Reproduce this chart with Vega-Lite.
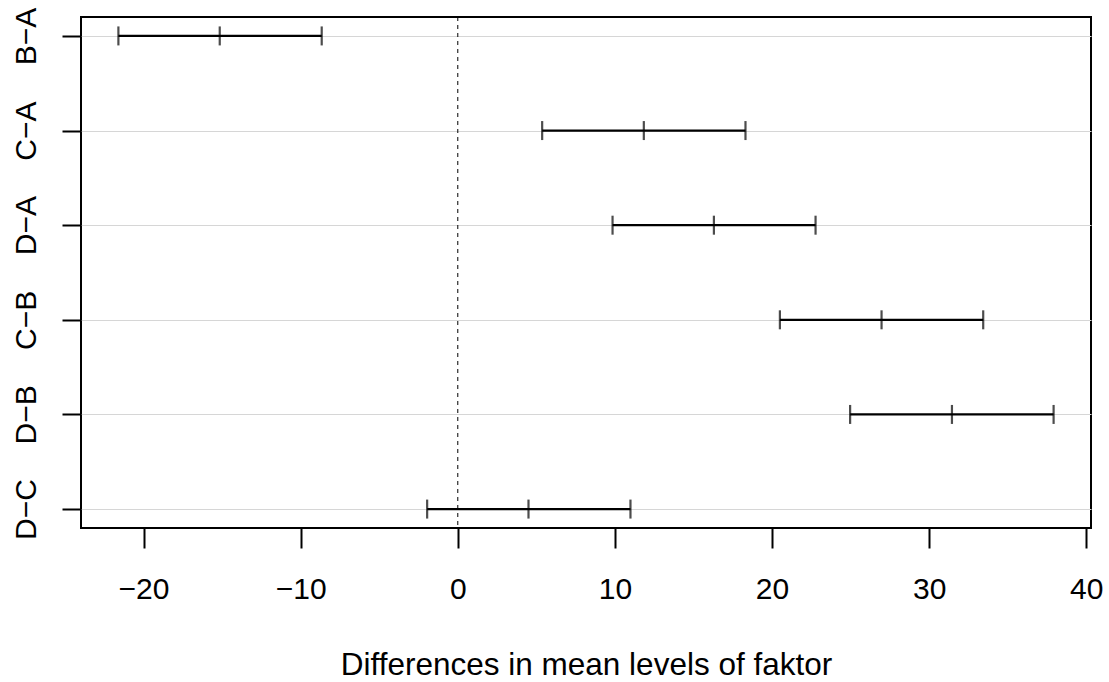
{
  "$schema": "https://vega.github.io/schema/vega-lite/v6.json",
  "width": 1010,
  "height": 511,
  "autosize": {"type": "none"},
  "padding": {"left": 81, "top": 17, "right": 18, "bottom": 154},
  "background": "white",
  "config": {
    "font": "Liberation Sans",
    "view": {"stroke": "black", "strokeWidth": 2},
    "axis": {
      "labelFont": "Liberation Sans",
      "titleFont": "Liberation Sans",
      "labelColor": "black",
      "titleColor": "black",
      "labelFontSize": 30,
      "titleFontSize": 31.5,
      "titleFontWeight": "normal",
      "tickColor": "black",
      "tickWidth": 2,
      "domain": false
    }
  },
  "data": {
    "values": [
      {"comparison": "B−A", "diff": -15.15, "lwr": -21.6, "upr": -8.66},
      {"comparison": "C−A", "diff": 11.84, "lwr": 5.37, "upr": 18.31},
      {"comparison": "D−A", "diff": 16.3, "lwr": 9.85, "upr": 22.77},
      {"comparison": "C−B", "diff": 26.97, "lwr": 20.5, "upr": 33.44},
      {"comparison": "D−B", "diff": 31.45, "lwr": 24.97, "upr": 37.92},
      {"comparison": "D−C", "diff": 4.5, "lwr": -1.95, "upr": 10.99}
    ]
  },
  "encoding": {
    "y": {
      "field": "comparison",
      "type": "nominal",
      "sort": ["B−A", "C−A", "D−A", "C−B", "D−B", "D−C"],
      "scale": {"type": "point", "padding": 0.2},
      "axis": {
        "title": null,
        "grid": true,
        "gridColor": "#d6d6d6",
        "gridWidth": 1,
        "tickSize": 19,
        "labelAngle": -90,
        "labelAlign": "center",
        "labelBaseline": "alphabetic",
        "labelPadding": 27
      }
    }
  },
  "layer": [
    {
      "data": {"values": [{"zero": 0}]},
      "mark": {"type": "rule", "color": "black", "strokeWidth": 1, "strokeDash": [4, 4]},
      "encoding": {
        "x": {"field": "zero", "type": "quantitative"},
        "y": null
      }
    },
    {
      "mark": {"type": "rule", "color": "black", "strokeWidth": 2.2},
      "encoding": {
        "x": {
          "field": "lwr",
          "type": "quantitative",
          "scale": {"domain": [-23.98, 40.3], "nice": false, "zero": false},
          "axis": {
            "title": "Differences in mean levels of faktor",
            "values": [-20, -10, 0, 10, 20, 30, 40],
            "format": "d",
            "labelExpr": "replace(datum.label, '-', '−')",
            "grid": false,
            "tickSize": 20,
            "labelBaseline": "alphabetic",
            "labelPadding": 50,
            "labelFlush": false,
            "labelOverlap": false,
            "titleBaseline": "alphabetic",
            "titleY": 146
          }
        },
        "x2": {"field": "upr"}
      }
    },
    {
      "mark": {"type": "tick", "color": "black", "orient": "vertical", "size": 19, "thickness": 2.2},
      "encoding": {"x": {"field": "lwr", "type": "quantitative"}}
    },
    {
      "mark": {"type": "tick", "color": "black", "orient": "vertical", "size": 19, "thickness": 2.2},
      "encoding": {"x": {"field": "diff", "type": "quantitative"}}
    },
    {
      "mark": {"type": "tick", "color": "black", "orient": "vertical", "size": 19, "thickness": 2.2},
      "encoding": {"x": {"field": "upr", "type": "quantitative"}}
    }
  ]
}
